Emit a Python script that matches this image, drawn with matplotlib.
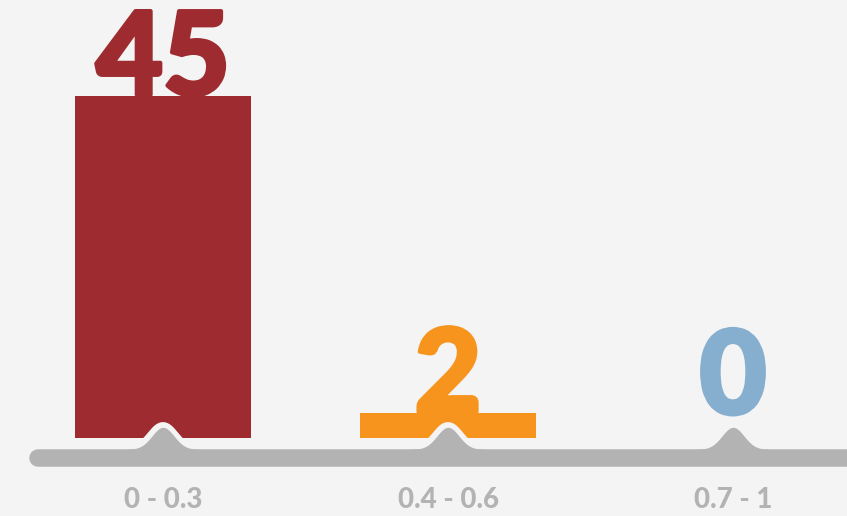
import numpy as np
import matplotlib
matplotlib.use("Agg")
import matplotlib.pyplot as plt
import matplotlib.patheffects as pe

# data
categories = ["0 - 0.3", "0.4 - 0.6", "0.7 - 1"]
counts = [45, 2, 0]
colors = ["#9e2b2f", "#f7941e", "#86aecf"]

bg = "#f4f4f4"
grey = "#b3b3b3"

W, H = 847, 516
fig = plt.figure(figsize=(W / 100, H / 100), dpi=100, facecolor=bg)
ax = fig.add_axes([0, 0, 1, 1], facecolor=bg)

# scales: 285 px per category, 7.37 px per count
px_x = 285.0
px_y = 7.372
x0_px = 163.0
y0_px = 88.0  # pixel height (from bottom) of value 0
ax.set_xlim(-x0_px / px_x, (W - x0_px) / px_x)
ax.set_ylim(-y0_px / px_y, (H - y0_px) / px_y)
ax.axis("off")

def dx(p):
    return p / px_x

def dy(p):
    return p / px_y

x = np.arange(len(categories))
pad = dy(9.5)  # small base so tiny values stay visible

heights = [c + pad if c > 0 else 0 for c in counts]
ax.bar(x, heights, width=0.62, bottom=-pad, color=colors, zorder=2)

# baseline with a bump under each category
base_y = dy(-30)
ax.plot([dx(38 - x0_px), 3.0], [base_y, base_y], color=grey, lw=12.6,
        solid_capstyle="round", zorder=4)
top = base_y + dy(8.7)
for xi in x:
    t = np.linspace(-36, 36, 240)
    g = 22 * np.exp(-0.5 * (t / 11.0) ** 2)
    xs = xi + dx(t)
    ys = top + dy(g)
    # background-coloured halo cutting into the bar
    ax.plot(xs, ys, color=bg, lw=7.5, solid_capstyle="round", zorder=3)
    ax.fill_between(xs, base_y, ys, color=grey, lw=0, zorder=5)

# value labels
for xi, c, col in zip(x, counts, colors):
    ly = c if c > 0 else dy(13)
    ax.text(xi, ly + dy(1.5), str(c), ha="center", va="baseline", color=col,
            fontsize=83, fontweight=900, family=["Lato", "DejaVu Sans"], zorder=1,
            path_effects=[pe.Stroke(linewidth=3, foreground=col), pe.Normal()])

# category labels
for xi, lab in zip(x, categories):
    ax.text(xi, dy(-72), lab, ha="center", va="center", color=grey,
            fontsize=20, fontweight=900, family=["Lato", "DejaVu Sans"])

fig.savefig("out.png", dpi=100, facecolor=bg)
